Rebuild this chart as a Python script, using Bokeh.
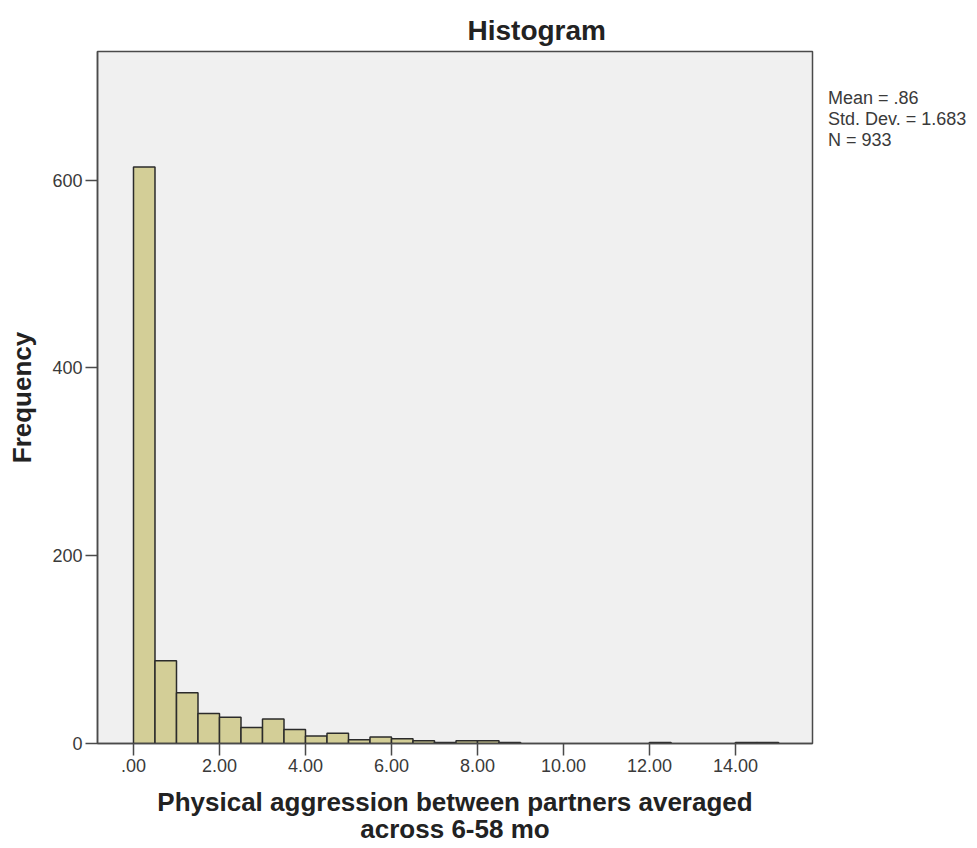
from bokeh.plotting import figure
from bokeh.models import FixedTicker, ColumnDataSource, Legend, LegendItem
from bokeh.embed import file_html
from bokeh.resources import INLINE

# ---- data ----
bin_starts = [0.0, 0.5, 1.0, 1.5, 2.0, 2.5, 3.0, 3.5, 4.0, 4.5, 5.0, 5.5, 6.0, 6.5,
              7.0, 7.5, 8.0, 8.5, 12.0, 14.0, 14.5]
counts = [614, 88, 54, 32, 28, 17, 26, 15, 8, 11, 4, 7, 5, 3,
          1, 3, 3, 1, 1, 1, 1]
bin_width = 0.5

x_ticks = [0, 2, 4, 6, 8, 10, 12, 14]
x_tick_labels = [".00", "2.00", "4.00", "6.00", "8.00", "10.00", "12.00", "14.00"]
y_ticks = [0, 200, 400, 600]

title_text = "Histogram"
x_label_lines = ["Physical aggression between partners averaged", "across 6-58 mo"]
y_label_text = "Frequency"
stats_lines = ["Mean = .86", "Std. Dev. = 1.683", "N = 933"]

FONT = "Liberation Sans"
DARK = "#222222"
GREY = "#3a3a3a"

source = ColumnDataSource(dict(
    left=list(bin_starts),
    right=[s + bin_width for s in bin_starts],
    top=counts,
))

p = figure(frame_width=715, frame_height=692,
           min_border_left=97, min_border_right=165,
           min_border_top=51, min_border_bottom=105,
           x_range=(-0.837, 15.79), y_range=(0, 737),
           output_backend="svg", toolbar_location=None)

p.background_fill_color = "#F0F0F0"
p.border_fill_color = "white"
p.outline_line_color = "#4a4a4a"
p.outline_line_width = 1.5
p.xgrid.visible = False
p.ygrid.visible = False

p.quad(left="left", right="right", top="top", bottom=0, source=source,
       fill_color="#D3CE97", line_color="#2b2b2b", line_width=1.5)

for ax in (p.xaxis[0], p.yaxis[0]):
    ax.axis_line_color = "#4a4a4a"
    ax.axis_line_width = 1.5
    ax.major_tick_line_color = "#4a4a4a"
    ax.major_tick_line_width = 1.5
    ax.major_tick_in = 0
    ax.major_tick_out = 12
    ax.minor_tick_line_color = None
    ax.major_label_text_font = FONT
    ax.major_label_text_font_size = "18px"
    ax.major_label_text_color = GREY
    ax.major_label_standoff = 3
    ax.axis_label_text_font = FONT
    ax.axis_label_text_font_style = "bold"
    ax.axis_label_text_font_size = "26px"
    ax.axis_label_text_color = DARK

p.xaxis[0].ticker = FixedTicker(ticks=x_ticks)
p.xaxis[0].major_label_overrides = {t: l for t, l in zip(x_ticks, x_tick_labels)}
p.yaxis[0].ticker = FixedTicker(ticks=y_ticks)

p.yaxis[0].axis_label = y_label_text
p.yaxis[0].axis_label_standoff = 12

# x axis label, two centred lines
p.xaxis[0].axis_label = "\n".join(x_label_lines)
p.xaxis[0].axis_label_standoff = 12
p.xaxis[0].axis_label_text_line_height = 0.9

# title
p.title.text = title_text
p.title.align = "left"
p.title.offset = 370
p.title.standoff = 11
p.title.text_font = FONT
p.title.text_font_style = "bold"
p.title.text_font_size = "28px"
p.title.text_color = DARK

# statistics block as a legend on the right
dummy = p.scatter(x=[], y=[], fill_alpha=0, line_alpha=0)
legend = Legend(items=[LegendItem(label=s, renderers=[dummy]) for s in stats_lines],
                location=(0, 592), orientation="vertical",
                glyph_width=16, glyph_height=19, label_height=19, label_standoff=0,
                spacing=0, padding=0, margin=0,
                border_line_color=None, background_fill_alpha=0,
                label_text_font=FONT, label_text_font_size="18px",
                label_text_color=GREY)
p.add_layout(legend, "right")

open("out.html", "w").write(file_html(p, INLINE))
